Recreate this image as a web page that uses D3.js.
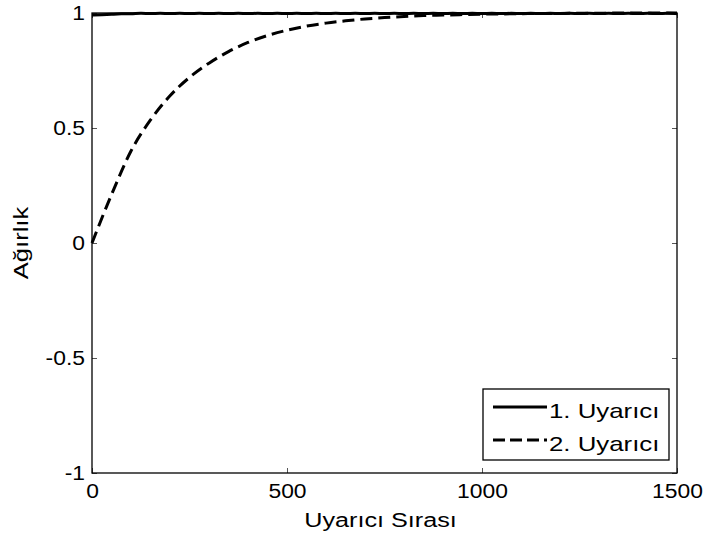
<!DOCTYPE html>
<html>
<head>
<meta charset="utf-8">
<script src="https://cdn.jsdelivr.net/npm/d3@7"></script>
<style>
  body { margin: 0; background: #fff; }
  svg { display: block; font-family: "Liberation Sans", Arial, sans-serif; }
</style>
</head>
<body>
<div id="chart"></div>
<script>
// Data
const xTicks = [0, 500, 1000, 1500];
const yTicks = [-1, -0.5, 0, 0.5, 1];

// x positions (Uyarıcı Sırası) for series 2, step 50
const s2x = [0, 50, 100, 150, 200, 250, 300, 350, 400, 450, 500, 550, 600, 650, 700, 750,
  800, 850, 900, 950, 1000, 1050, 1100, 1150, 1200, 1250, 1300, 1350, 1400, 1450, 1500];
const s2y = [0, 0.21, 0.4, 0.535, 0.64, 0.72, 0.782, 0.832, 0.872, 0.902, 0.925, 0.943,
  0.956, 0.966, 0.974, 0.98, 0.985, 0.989, 0.991, 0.993, 0.995, 0.996, 0.997, 0.998,
  0.998, 0.999, 0.999, 1, 1, 1, 1];

// series 1 stays at ~1 with a small ripple, step 25
const s1x = d3.range(0, 1501, 25);
const s1y = [0.991, 0.992, 0.994, 0.998, 0.995, 1, 0.996, 1, 0.996, 1, 0.996, 1, 0.996, 1,
  0.996, 1, 0.996, 1, 0.996, 1, 0.996, 1, 0.996, 1, 0.996, 1, 0.996, 1, 0.996, 1, 0.996,
  1, 0.996, 1, 0.996, 1, 0.996, 1, 0.996, 1, 0.996, 1, 0.996, 1, 0.996, 1, 0.996, 1,
  0.996, 1, 0.996, 1, 0.996, 1, 0.996, 1, 0.996, 1, 0.996, 1, 0.997];

const seriesNames = ["1. Uyarıcı", "2. Uyarıcı"];

const width = 706;
const height = 541;
const plotL = 92, plotR = 677, plotT = 13, plotB = 473;

const svg = d3.select("#chart").append("svg")
  .attr("width", width)
  .attr("height", height);

const x = d3.scaleLinear().domain([0, 1500]).range([plotL, plotR]);
const y = d3.scaleLinear().domain([-1, 1]).range([plotB, plotT]);

// the source draws wider glyphs than Liberation Sans, so widen them a bit
function widen(sel, k) {
  sel.each(function () {
    const t = d3.select(this);
    const x0 = +t.attr("x") || 0;
    t.attr("transform", `translate(${x0},0) scale(${k},1) translate(${-x0},0)`);
  });
}

function styleAxis(g) {
  g.select(".domain").remove();
  g.selectAll(".tick line").attr("stroke", "#555").attr("stroke-width", 1);
  g.selectAll(".tick text").attr("fill", "#000").style("font-size", "21px");
}

const fmt = (d) => String(d);

const gx = svg.append("g")
  .attr("transform", `translate(0,${plotB})`)
  .call(d3.axisBottom(x).tickValues(xTicks).tickFormat(fmt).tickSizeInner(-5).tickSizeOuter(0).tickPadding(10))
  .call(styleAxis);
widen(gx.selectAll(".tick text"), 1.09);

const gy = svg.append("g")
  .attr("transform", `translate(${plotL},0)`)
  .call(d3.axisLeft(y).tickValues(yTicks).tickFormat(fmt).tickSizeInner(-5).tickSizeOuter(0).tickPadding(7))
  .call(styleAxis);
widen(gy.selectAll(".tick text"), 1.09);

svg.append("g")
  .attr("transform", `translate(0,${plotT})`)
  .call(d3.axisTop(x).tickValues(xTicks).tickFormat("").tickSizeInner(-5).tickSizeOuter(0))
  .call(styleAxis);

svg.append("g")
  .attr("transform", `translate(${plotR},0)`)
  .call(d3.axisRight(y).tickValues(yTicks).tickFormat("").tickSizeInner(-5).tickSizeOuter(0))
  .call(styleAxis);

// axes box
svg.append("rect")
  .attr("x", plotL)
  .attr("y", plotT)
  .attr("width", plotR - plotL)
  .attr("height", plotB - plotT)
  .attr("fill", "none")
  .attr("stroke", "#000")
  .attr("stroke-width", 1.3);

const line = d3.line()
  .x((d) => x(d[0]))
  .y((d) => y(d[1]))
  .curve(d3.curveBasis);

const s1 = s1x.map((v, i) => [v, s1y[i]]);
const s2 = s2x.map((v, i) => [v, s2y[i]]);

svg.append("path")
  .datum(s2)
  .attr("d", line.curve(d3.curveMonotoneX))
  .attr("fill", "none")
  .attr("stroke", "#000")
  .attr("stroke-width", 3)
  .attr("stroke-dasharray", "12,6");

svg.append("path")
  .datum(s1)
  .attr("d", line.curve(d3.curveBasis))
  .attr("fill", "none")
  .attr("stroke", "#000")
  .attr("stroke-width", 3);

// axis labels
svg.append("text")
  .attr("transform", `translate(${(plotL + plotR) / 2 - 4},527) scale(1.2,1)`)
  .attr("text-anchor", "middle")
  .style("font-size", "21px")
  .text("Uyarıcı Sırası");

svg.append("text")
  .attr("transform", `translate(28,${(plotT + plotB) / 2}) rotate(-90) scale(1.22,1)`)
  .attr("text-anchor", "middle")
  .style("font-size", "21px")
  .text("Ağırlık");

// legend
const legend = svg.append("g");
legend.append("rect")
  .attr("x", 483)
  .attr("y", 389)
  .attr("width", 186)
  .attr("height", 71)
  .attr("fill", "#fff")
  .attr("stroke", "#000")
  .attr("stroke-width", 1.3);

const rows = [407, 440];
seriesNames.forEach((name, i) => {
  legend.append("line")
    .attr("x1", 493)
    .attr("x2", 547)
    .attr("y1", rows[i])
    .attr("y2", rows[i])
    .attr("stroke", "#000")
    .attr("stroke-width", 3)
    .attr("stroke-dasharray", i === 1 ? "12,5" : null);
  legend.append("text")
    .attr("transform", `translate(549,${rows[i] + 11}) scale(1.23,1)`)
    .style("font-size", "21px")
    .text(name);
});
</script>
</body>
</html>
